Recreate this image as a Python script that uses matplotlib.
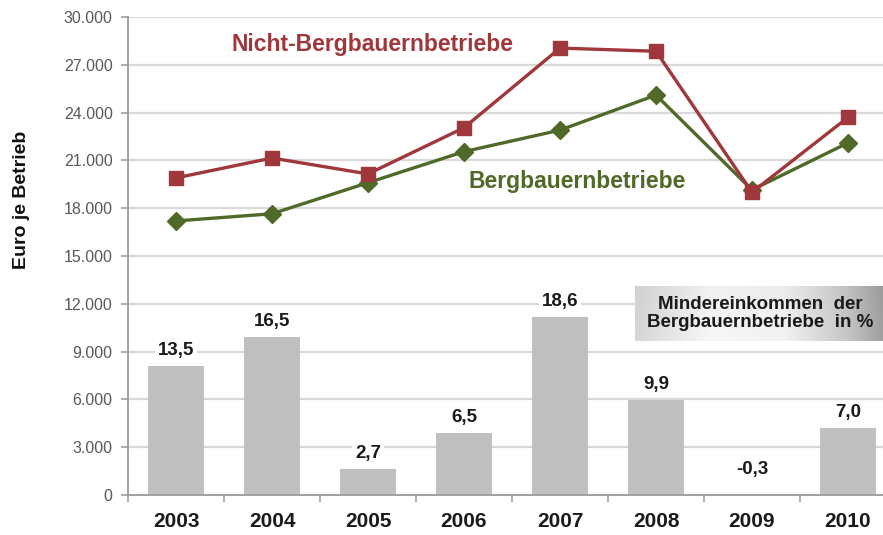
import numpy as np
import matplotlib
matplotlib.use('Agg')
import matplotlib.pyplot as plt
from matplotlib.ticker import FuncFormatter, FixedLocator

plt.rcParams['font.family'] = ['Liberation Sans', 'DejaVu Sans']

# data
years = ['2003', '2004', '2005', '2006', '2007', '2008', '2009', '2010']
nicht_berg = [19900, 21150, 20150, 23050, 28050, 27850, 19000, 23700]
berg = [17200, 17650, 19600, 21550, 22900, 25100, 19150, 22100]
minder_pct = [13.5, 16.5, 2.7, 6.5, 18.6, 9.9, -0.3, 7.0]
bar_scale = 600  # bars are drawn as percent * 600 on the euro axis

red = '#a0373b'
green = '#4f6a28'
grey_txt = '#595959'

W, H = 883, 535
fig = plt.figure(figsize=(W / 100, H / 100), dpi=100)
ax = fig.add_axes([128 / W, 40 / H, 768 / W, 478 / H])

x = np.arange(len(years))
bar_h = np.array(minder_pct) * bar_scale

# gridlines
for yv in range(3000, 30001, 3000):
    ax.axhline(yv, color='#d9d9d9', lw=1.6, zorder=0)

ax.bar(x, bar_h, width=0.58, color='#c0c0c0', zorder=2)
for xi, h, p in zip(x, bar_h, minder_pct):
    ax.annotate(f'{p:.1f}'.replace('.', ','), (xi, max(h, 0)),
                xytext=(0, 5 if h > 0 else 12),
                textcoords='offset points', ha='center', va='bottom',
                fontsize=13.5, fontweight='bold', color='#1a1a1a', zorder=3,
                bbox=dict(boxstyle='square,pad=0.15', fc='white', ec='none'))

ax.plot(x, berg, color=green, lw=2.4, marker='D', ms=9, zorder=4)
ax.plot(x, nicht_berg, color=red, lw=2.4, marker='s', ms=9.5, zorder=5)

ax.text(2.05, 28300, 'Nicht-Bergbauernbetriebe', color=red, fontsize=16.5,
        fontweight='bold', ha='center', va='center')
ax.text(4.18, 19700, 'Bergbauernbetriebe', color=green, fontsize=16.5,
        fontweight='bold', ha='center', va='center')

ax.set_xlim(-0.5, len(years) - 0.5)
ax.set_ylim(0, 30000)
ax.set_yticks(range(0, 30001, 3000))
ax.yaxis.set_major_formatter(FuncFormatter(lambda v, p: f'{int(v):,}'.replace(',', '.')))
ax.set_xticks(x)
ax.set_xticklabels(years, fontsize=15, fontweight='bold', color='#1a1a1a')
ax.xaxis.set_minor_locator(FixedLocator(np.arange(-0.5, len(years), 1.0)))
ax.tick_params(axis='x', which='major', length=0, pad=12)
ax.tick_params(axis='x', which='minor', length=5, color='#a0a0a0', width=1.2)
ax.tick_params(axis='y', length=5, color='#a0a0a0', width=1.2, labelsize=11.5,
               labelcolor=grey_txt, pad=6)

for s in ['top', 'right']:
    ax.spines[s].set_visible(False)
for s in ['left', 'bottom']:
    ax.spines[s].set_color('#a0a0a0')
    ax.spines[s].set_linewidth(1.4)

fig.text(22 / W, 1 - 200 / H, 'Euro je Betrieb', rotation=90, fontsize=14,
         fontweight='bold', ha='center', va='center', color='#111111')

# shaded box for the bar description
bx = fig.add_axes([635 / W, (H - 341) / H, 250 / W, 55 / H])
xs = np.linspace(0, 1, 200)
row = np.interp(xs, [0, 0.3, 0.6, 0.85, 1], [0.84, 0.97, 0.95, 0.78, 0.62])
col = np.linspace(0.97, 1.0, 40)[:, None]
grad = np.clip(row[None, :] * col, 0, 1)
bx.imshow(grad, cmap='gray', vmin=0, vmax=1, aspect='auto', extent=[0, 1, 0, 1])
bx.set_axis_off()
bx.text(0.5, 0.5, 'Mindereinkommen  der\nBergbauernbetriebe  in %', ha='center',
        va='center', fontsize=13.5, fontweight='bold', color='#1a1a1a',
        linespacing=1.1, transform=bx.transAxes)

fig.savefig('out.png', dpi=100)
